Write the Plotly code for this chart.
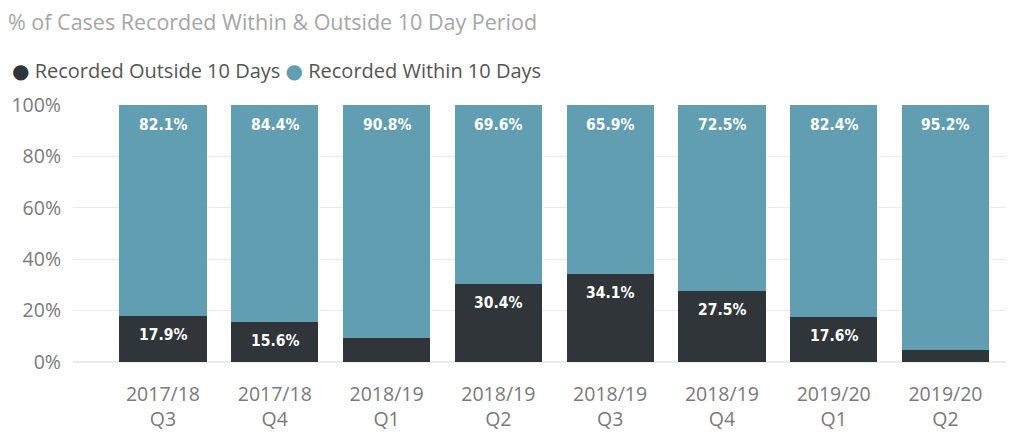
import plotly.graph_objects as go

categories = ["2017/18<br>Q3", "2017/18<br>Q4", "2018/19<br>Q1", "2018/19<br>Q2",
              "2018/19<br>Q3", "2018/19<br>Q4", "2019/20<br>Q1", "2019/20<br>Q2"]
outside = [17.9, 15.6, 9.2, 30.4, 34.1, 27.5, 17.6, 4.8]
within = [82.1, 84.4, 90.8, 69.6, 65.9, 72.5, 82.4, 95.2]
outside_labels = ["17.9%", "15.6%", "", "30.4%", "34.1%", "27.5%", "17.6%", ""]
within_labels = ["82.1%", "84.4%", "90.8%", "69.6%", "65.9%", "72.5%", "82.4%", "95.2%"]
series_names = ["Recorded Outside 10 Days", "Recorded Within 10 Days"]

DARK = "#2F3538"
TEAL = "#629EB2"
x = list(range(len(categories)))
label_font = dict(family="DejaVu Sans Condensed", size=15.5, color="white", weight="bold")

fig = go.Figure()
fig.add_trace(go.Bar(x=x, y=outside, marker_color=DARK, name=series_names[0],
                     showlegend=False, hoverinfo="skip", marker_line_width=0))
fig.add_trace(go.Bar(x=x, y=within, marker_color=TEAL, name=series_names[1],
                     showlegend=False, hoverinfo="skip", marker_line_width=0))

annotations = []
for i in x:
    if outside_labels[i]:
        annotations.append(dict(x=i, y=outside[i], xref="x", yref="y", text=outside_labels[i],
                                showarrow=False, yanchor="middle", yshift=-19, font=label_font))
    annotations.append(dict(x=i, y=outside[i] + within[i], xref="x", yref="y", text=within_labels[i],
                            showarrow=False, yanchor="middle", yshift=-20, font=label_font))

legend_text = (f"<span style='color:{DARK};font-family:DejaVu Sans'>●</span> {series_names[0]} "
               f"<span style='color:{TEAL};font-family:DejaVu Sans'>●</span> {series_names[1]}")
annotations.append(dict(text=legend_text, xref="paper", yref="paper", x=0, y=1,
                        xanchor="left", yanchor="middle", showarrow=False,
                        xshift=-63, yshift=35,
                        font=dict(family="Open Sans", size=20, color="#555555")))

fig.update_layout(
    width=1006, height=424,
    barmode="stack", bargap=0.22,
    paper_bgcolor="white", plot_bgcolor="white",
    margin=dict(l=65, r=2, t=97, b=70),
    font=dict(family="Open Sans", color="#777777"),
    title=dict(text="% of Cases Recorded Within & Outside 10 Day Period",
               font=dict(family="Open Sans", size=21.5, color="#A6A6A6"),
               xref="container", yref="container", x=0.0, y=1 - 14 / 424,
               xanchor="left", yanchor="middle"),
    showlegend=False,
    annotations=annotations,
)

fig.update_xaxes(tickmode="array", tickvals=x, ticktext=categories,
                 range=[-0.805, 7.595], showgrid=False, zeroline=False, showline=False,
                 tickfont=dict(family="Open Sans", size=19.5, color="#7A7A7A"),
                 ticks="", ticklabelstandoff=18, automargin=False)
fig.update_yaxes(range=[0, 100], tickvals=[0, 20, 40, 60, 80, 100],
                 ticktext=["0%", "20%", "40%", "60%", "80%", "100%"],
                 showgrid=True, gridcolor="#EBEBEB", gridwidth=1,
                 zeroline=True, zerolinecolor="#EBEBEB", showline=False,
                 tickfont=dict(family="Open Sans", size=19.5, color="#7A7A7A"),
                 ticks="", ticklabelstandoff=11, automargin=False)

fig.write_html("out.html")
